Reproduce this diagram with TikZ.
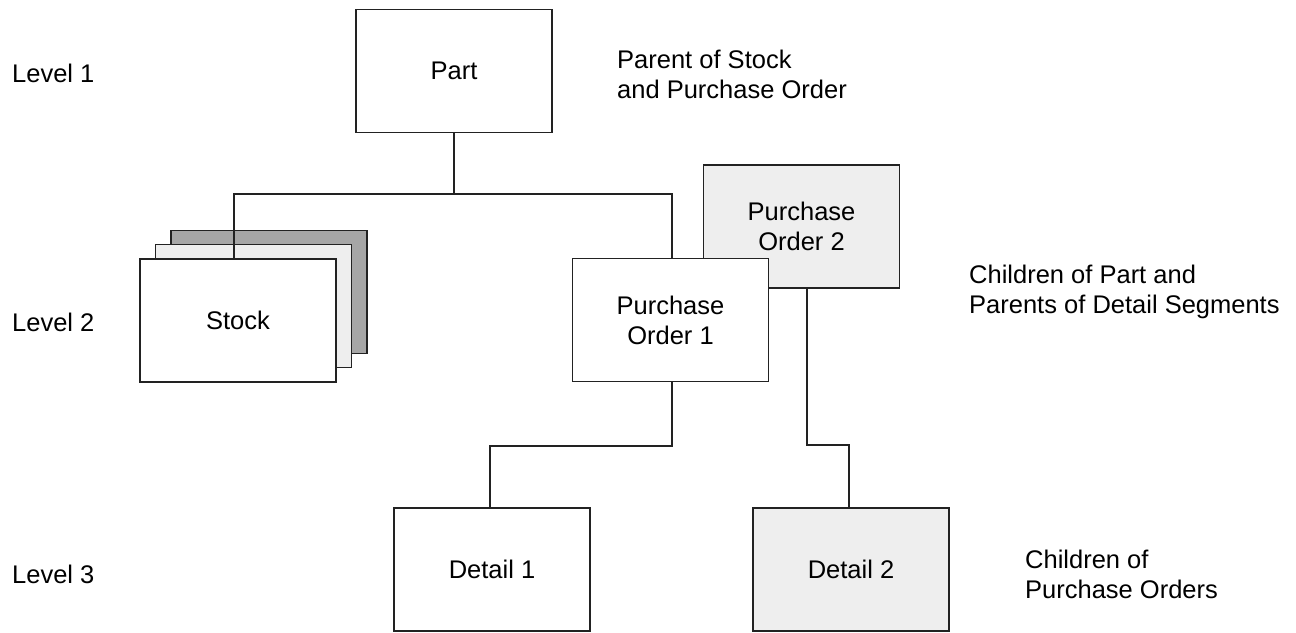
\documentclass[tikz,border=0pt]{standalone}
\usepackage{fontspec}
\setmainfont{Liberation Sans}
\newcommand\lbl{\fontsize{25.5}{30}\selectfont}
\definecolor{darkfill}{HTML}{A6A6A6}
\definecolor{lightfill}{HTML}{EEEEEE}
\definecolor{edge}{HTML}{222222}
\begin{document}
\begin{tikzpicture}[x=1pt,y=-1pt,
  box/.style={draw=edge, line width=1.2pt, minimum width=196pt, minimum height=123pt,
    inner sep=0pt, align=center, font=\lbl, fill=white},
  note/.style={anchor=north west, inner sep=0pt, align=left, font=\lbl},
  conn/.style={draw=edge, line width=1.2pt}]
\useasboundingbox (0,0) rectangle (1296,632);
% level labels
\node[note] (l1) at (12,64) {Level 1};
\node[note] (l2) at (12,313) {Level 2};
\node[note] (l3) at (12,565) {Level 3};
% notes
\node[note] (n1) at (617,50) {Parent of Stock\\and Purchase Order};
\node[note] (n2) at (969,265) {Children of Part and\\Parents of Detail Segments};
\node[note] (n3) at (1025,550) {Children of\\Purchase Orders};
% boxes (back layers first)
\node[box] (part) at (454,71) {Part};
\node[box, fill=darkfill] (stock3) at (269,292) {};
\node[box, fill=lightfill] (stock2) at (253.5,306) {};
\node[box, fill=lightfill] (po2) at (801.5,226.5) {Purchase\\Order 2};
% connectors
\coordinate (bus) at (454,194);
\coordinate (stocktop) at (234,259);
\coordinate (po1top) at (672,258);
\draw[conn] (part.south) -- (bus);
\draw[conn] (stocktop) |- (bus) -| (po1top);
% front boxes
\node[box] (stock) at (238,320.5) {Stock};
\node[box] (po1) at (670.5,320) {Purchase\\Order 1};
\node[box] (d1) at (492,569.5) {Detail 1};
\node[box, fill=lightfill] (d2) at (851,569.5) {Detail 2};
% lower connectors
\draw[conn] ([xshift=1.5pt]po1.south) |- (490,446) coordinate (m1) -- ([xshift=-2pt]d1.north);
\draw[conn] ([xshift=5.5pt]po2.south) |- (849,445) coordinate (m2) -- ([xshift=-2pt]d2.north);
\end{tikzpicture}
\end{document}
